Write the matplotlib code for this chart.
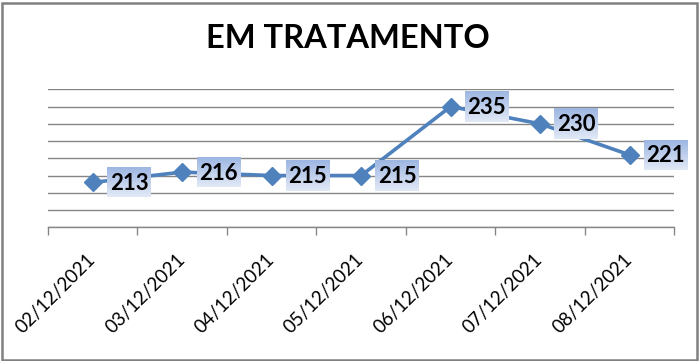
import matplotlib.pyplot as plt
import numpy as np
from matplotlib.colors import LinearSegmentedColormap
from matplotlib.patches import Rectangle

# dados
datas = ['02/12/2021', '03/12/2021', '04/12/2021', '05/12/2021',
         '06/12/2021', '07/12/2021', '08/12/2021']
valores = [213, 216, 215, 215, 235, 230, 221]

plt.rcParams['font.family'] = ['Lato', 'DejaVu Sans']

W, H = 700, 361
fig = plt.figure(figsize=(W / 100, H / 100), dpi=100)
ax = fig.add_axes([48 / W, 1 - 227.3 / H, (674.3 - 48) / W, (227.3 - 89.3) / H])

x = np.arange(len(datas))
ax.plot(x, valores, color='#4f81bd', lw=2.6, marker='D', ms=9, zorder=3)

ax.set_xlim(-0.5, len(datas) - 0.5)
ax.set_ylim(200, 240)
ax.set_yticks(range(200, 241, 5))
ax.yaxis.grid(True, color='#868686', lw=1)
ax.set_axisbelow(True)
ax.tick_params(axis='y', length=0, labelleft=False)
for s in ['left', 'right', 'top']:
    ax.spines[s].set_visible(False)
ax.spines['bottom'].set_color('#868686')
ax.spines['bottom'].set_linewidth(1)

ax.set_xticks(x)
ax.set_xticklabels(datas, rotation=45, ha='right', va='center',
                   rotation_mode='anchor', fontsize=13.5)
ax.set_xticks(np.arange(-0.5, len(datas)), minor=True)
ax.tick_params(axis='x', which='major', length=0, pad=21)
ax.tick_params(axis='x', which='minor', length=6, color='#868686',
               width=1, direction='out')

# rotulos com fundo em degrade
cmap = LinearSegmentedColormap.from_list('rot', ['#e2e9f6', '#9db6e2'])
grad = np.linspace(0, 1, 64).reshape(-1, 1)
dy = 15 / 3.45
for xi, v in zip(x, valores):
    x0, x1 = xi + 0.16, xi + 0.65
    ax.imshow(grad, cmap=cmap, extent=[x0, x1, v - dy, v + dy],
              origin='lower', aspect='auto', zorder=4, clip_on=False)
    ax.text((x0 + x1) / 2, v - 0.3, str(v), ha='center', va='center',
            fontsize=16, weight='bold', zorder=5)

ax.set_xlim(-0.5, len(datas) - 0.5)
ax.set_ylim(200, 240)

fig.text(348 / W, 1 - 48.3 / H, 'EM TRATAMENTO', ha='center', va='baseline',
         fontsize=23.5, weight='bold')

fig.patches.append(Rectangle((1.5 / W, 1.5 / H), (W - 4.5) / W, (H - 4.5) / H,
                             transform=fig.transFigure, fill=False,
                             edgecolor='#808080', lw=1.8))

fig.savefig('out.png', dpi=100)
